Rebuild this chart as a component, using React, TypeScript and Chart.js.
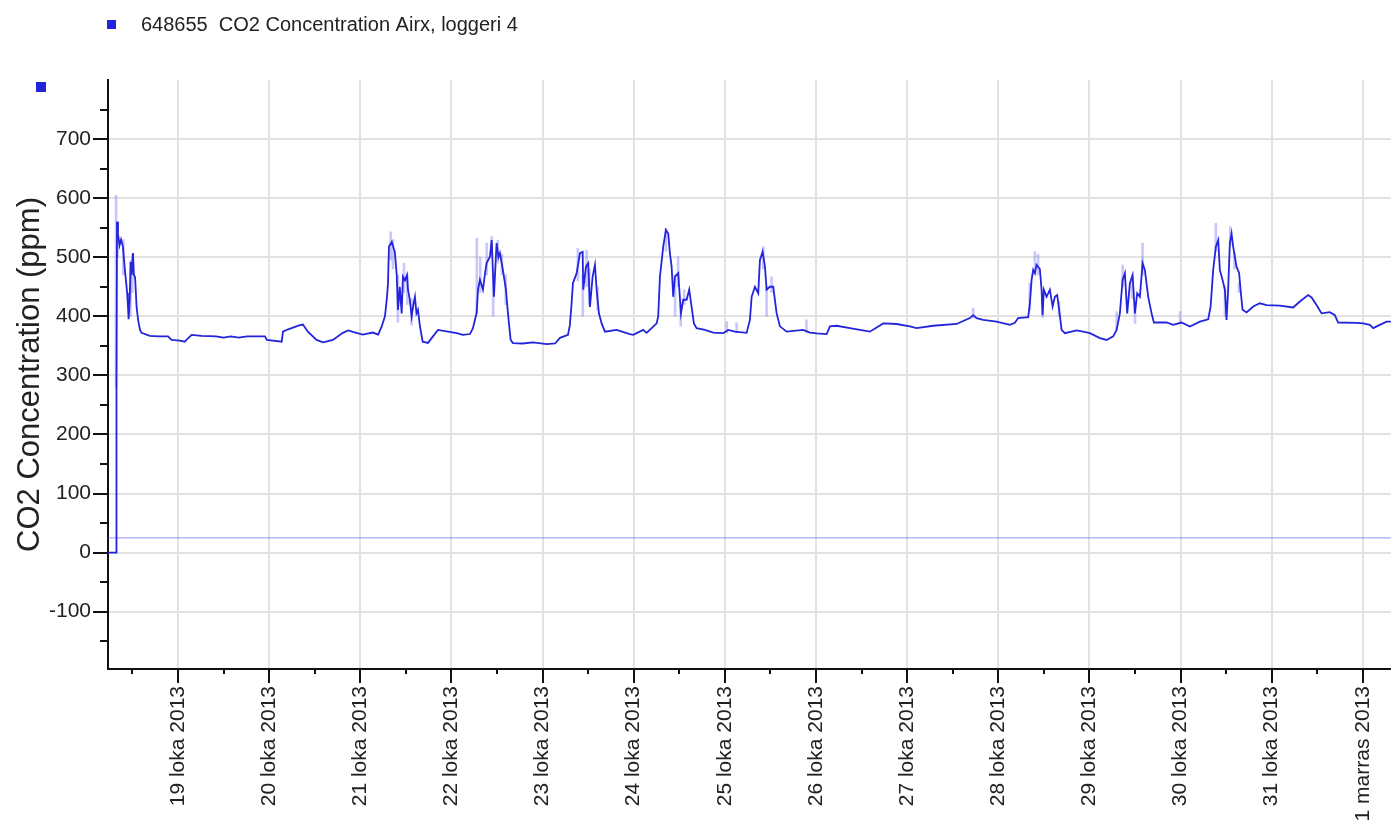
import React, { useEffect, useRef } from 'react';
import { Chart, registerables } from 'chart.js';

Chart.register(...registerables);

const FONT = '"Liberation Sans", Arial, Helvetica, sans-serif';

const seriesLabel = '648655  CO2 Concentration Airx, loggeri 4';
const yAxisTitle = 'CO2 Concentration (ppm)';

// time axis: hours since 18 Oct 2013 00:00
const X_MIN = 5.57;
const X_MAX = 343.4;
const Y_MIN = -197;
const Y_MAX = 800;

const co2Hours = [
  5.6, 7.7, 7.7, 7.9, 7.95, 8.2, 8.6, 9.0, 9.5, 10.0, 10.3, 10.6, 10.8, 11.0, 11.3, 11.55, 11.8, 12.15, 12.4, 12.7,
  13.1, 13.5, 14.0, 14.4, 16.6, 19.0, 21.4, 22.3, 24.5, 25.8, 26.5, 27.6, 30.2, 34.0, 36.0, 37.9, 40.0, 42.2, 46.9, 47.4,
  51.3, 51.65, 53.0, 56.1, 56.9, 58.2, 60.5, 62.2, 64.8, 67.4, 68.8, 70.5, 72.7, 75.3, 76.7, 77.6, 78.5, 79.0, 79.3, 79.56,
  80.3, 80.8, 81.1, 81.6, 81.93, 82.4, 82.9, 83.24, 83.77, 84.3, 84.56, 85.0, 85.53, 86.0, 86.4, 86.8, 87.19, 87.72, 88.43, 89.83,
  91.14, 92.46, 95.1, 97.4, 99.0, 100.9, 101.67, 102.65, 103.0, 103.52, 104.31, 104.8, 105.28, 106.15, 106.6, 107.2, 107.9, 108.4, 108.78, 109.57,
  110.36, 110.89, 111.6, 112.2, 114.8, 117.5, 121.1, 123.3, 124.6, 126.7, 127.2, 127.66, 128.0, 128.98, 129.85, 130.56, 130.72, 131.43, 132.03, 132.48,
  133.19, 133.8, 134.24, 134.85, 135.56, 136.43, 139.5, 143.0, 143.9, 146.5, 147.4, 149.15, 150.04, 150.46, 150.91, 151.78, 152.49, 153.1, 153.54, 153.99,
  154.41, 154.86, 155.73, 156.44, 157.04, 157.94, 158.62, 159.25, 159.86, 160.57, 162.76, 164.95, 167.58, 168.9, 170.66, 173.74, 174.61, 175.06, 175.93, 176.8,
  177.24, 177.95, 178.56, 179.01, 179.88, 180.75, 181.64, 182.51, 184.27, 188.64, 190.41, 192.17, 194.81, 195.67, 197.44, 200.94, 206.2, 209.71, 213.24, 216.74,
  218.5, 222.87, 229.03, 232.53, 233.4, 234.3, 236.04, 239.57, 243.07, 244.38, 245.25, 247.89, 248.33, 248.78, 249.2, 249.65, 250.09, 250.96, 251.41, 251.67,
  252.02, 252.73, 253.6, 254.31, 254.91, 255.52, 256.05, 256.68, 257.55, 260.63, 262.37, 264.13, 266.77, 268.53, 270.27, 271.17, 272.03, 272.75, 273.35, 273.96,
  274.67, 275.38, 275.99, 276.59, 277.3, 278.01, 278.62, 279.49, 280.38, 280.99, 284.33, 286.07, 288.28, 290.47, 293.1, 295.29, 295.92, 296.6, 297.31, 297.92,
  298.36, 299.07, 299.68, 300.12, 300.54, 300.99, 301.44, 301.86, 302.75, 303.44, 303.81, 304.33, 305.39, 307.13, 308.89, 310.66, 314.16, 317.66, 319.43, 321.61,
  322.51, 323.82, 325.14, 327.33, 328.64, 329.51, 334.35, 336.09, 337.86, 338.73, 340.49, 342.25, 343.4,
];

const co2Values = [
  0, 0, 280, 280, 560, 540, 520, 530, 518, 480, 460, 440, 420, 395, 430, 492, 470, 507, 470, 466,
  416, 394, 377, 372, 367, 366, 366, 360, 359, 357, 362, 368.6, 367, 366, 364, 366, 364, 366, 366, 360,
  357, 374, 378, 385, 386, 374, 360, 356, 360, 372, 376, 373, 369, 372.5, 369, 382, 400, 430, 456, 518,
  526, 515, 509, 470, 411, 450, 405, 467, 461, 470, 445, 430, 400, 420, 433, 405, 411, 383, 357, 355,
  366, 377, 374, 371.5, 368.6, 370, 380, 406, 445, 462, 445, 470, 490, 501, 529, 433, 524, 500, 507, 478,
  445, 405, 360, 354.6, 354, 356, 353, 354, 363.5, 368.6, 385.5, 422.7, 456, 473, 507, 509, 445, 484, 490, 416,
  467, 487, 445, 405, 388, 374, 377, 370, 368.6, 377, 372, 382.6, 388, 400, 467, 518, 546, 540, 507, 484,
  433, 467, 473, 405, 428, 428, 445, 416, 388, 380, 377, 372.5, 371.5, 377, 374, 372, 394, 433, 450, 439,
  495, 509.5, 484, 445, 450, 450, 405, 383, 374, 377, 372.5, 371, 370, 383, 384, 380, 374, 388, 387, 383,
  380, 384, 387, 397, 402, 397, 394, 391, 385.5, 389, 397, 398.5, 422, 461.6, 478.5, 473, 487, 480, 445, 402,
  445, 433, 445, 416.5, 433, 436, 411, 377, 371.5, 376, 374, 371.5, 363, 360, 366, 377, 405, 461.6, 473, 405,
  456, 470, 405, 439, 433, 490, 478, 433, 405, 389.5, 389.5, 385.5, 389.5, 382.6, 391, 395, 416.5, 478.5, 518, 529,
  478.5, 461.6, 445, 394, 445, 524, 540, 518, 484, 473, 445, 411, 406.5, 416.5, 422, 419, 418, 415, 425, 436,
  432, 419, 405, 407, 402, 389.5, 389, 388, 385.5, 380, 385.5, 391, 391,
];

// light min/max spikes of the raw readings
const spikeHours = [
  7.7, 8.1, 9.6, 11.5, 12.0, 80.0, 80.6, 81.9, 83.5, 84.4, 85.5, 102.7, 103.6, 105.3, 106.6, 107.0, 108.2, 109.3, 110.3,
  129.3, 130.6, 131.6, 132.3, 134.5, 152.5, 154.9, 155.7, 156.4, 157.3, 168.5, 171.1, 178.1, 179.0, 180.3, 189.5, 233.4,
  248.3, 249.65, 250.5, 251.7, 256.0, 271.2, 272.75, 275.2, 276.0, 278.0, 287.9, 297.3, 299.7, 301.1, 302.2, 303.4,
];
const spikeLow = [
  280, 500, 470, 400, 440, 495, 480, 390, 440, 420, 385, 405, 440, 470, 500, 400, 490, 470, 420,
  460, 400, 450, 420, 410, 510, 400, 450, 383, 420, 372, 372, 480, 400, 440, 372, 397,
  410, 470, 470, 398, 400, 377, 450, 430, 388, 470, 389, 510, 400, 520, 480, 440,
];
const spikeHigh = [
  605, 560, 530, 495, 505, 543, 530, 470, 490, 470, 430, 532, 500, 524, 535, 470, 529, 505, 470,
  515, 470, 512, 480, 450, 549, 470, 501, 420, 445, 391, 389, 518, 450, 467, 394, 414,
  456, 509.5, 505, 445, 425, 408, 487, 460, 420, 524, 408, 557.5, 450, 552, 508, 456.5,
];

const baselineHours = [X_MIN, X_MAX];
const baselineValues = [25, 25];

const xTickHours = [24, 48, 72, 96, 120, 144, 168, 192, 216, 240, 264, 288, 312, 336];
const xTickLabels = [
  '19 loka 2013', '20 loka 2013', '21 loka 2013', '22 loka 2013', '23 loka 2013', '24 loka 2013', '25 loka 2013',
  '26 loka 2013', '27 loka 2013', '28 loka 2013', '29 loka 2013', '30 loka 2013', '31 loka 2013', '1 marras 2013',
];
const xMinorHours = [12, 36, 60, 84, 108, 132, 156, 180, 204, 228, 252, 276, 300, 324];
const yTickValues = [-100, 0, 100, 200, 300, 400, 500, 600, 700];
const yMinorValues = [-150, -50, 50, 150, 250, 350, 450, 550, 650, 750];

const AXIS = '#111111';
const TEXT = '#222222';
const GRID = '#e2e2e2';
const BLUE = '#2424dc';

const decorPlugin = {
  id: 'decor',
  afterDraw(chart: any) {
    const { ctx, chartArea, scales } = chart;
    const x = scales.x;
    const y = scales.y;
    ctx.save();
    ctx.strokeStyle = AXIS;
    ctx.lineWidth = 2;
    ctx.beginPath();
    xMinorHours.forEach((h) => {
      const px = Math.round(x.getPixelForValue(h));
      ctx.moveTo(px, chartArea.bottom);
      ctx.lineTo(px, chartArea.bottom + 5);
    });
    yMinorValues.forEach((v) => {
      const py = Math.round(y.getPixelForValue(v));
      ctx.moveTo(chartArea.left - 8, py);
      ctx.lineTo(chartArea.left, py);
    });
    ctx.stroke();

    // legend
    ctx.fillStyle = BLUE;
    ctx.fillRect(107, 20, 9, 9);
    ctx.fillRect(36, 82, 10, 10);
    ctx.fillStyle = TEXT;
    ctx.font = `20px ${FONT}`;
    ctx.textBaseline = 'alphabetic';
    ctx.textAlign = 'left';
    ctx.fillText(seriesLabel, 141, 31);
    ctx.restore();
  },
};

export default function App() {
  const canvasRef = useRef<HTMLCanvasElement | null>(null);

  useEffect(() => {
    if (!canvasRef.current) return;
    const chart = new Chart(canvasRef.current, {
      type: 'line',
      data: {
        datasets: [
          {
            type: 'line',
            label: seriesLabel,
            data: co2Hours.map((h, i) => ({ x: h, y: co2Values[i] })),
            borderColor: BLUE,
            borderWidth: 1.8,
            pointRadius: 0,
            tension: 0,
            order: 0,
          },
          {
            type: 'bar',
            label: 'range',
            data: spikeHours.map((h, i) => ({ x: h, y: [spikeLow[i], spikeHigh[i]] })) as any,
            backgroundColor: 'rgba(125,125,255,0.42)',
            borderWidth: 0,
            barThickness: 2,
            order: 1,
          } as any,
          {
            type: 'line',
            label: 'baseline',
            data: baselineHours.map((h, i) => ({ x: h, y: baselineValues[i] })),
            borderColor: 'rgba(110,110,255,0.6)',
            borderWidth: 1.2,
            pointRadius: 0,
            order: 2,
          },
        ],
      },
      options: {
        responsive: false,
        devicePixelRatio: 1,
        animation: false,
        layout: { padding: { top: 80, left: 0, right: 0, bottom: 0 } },
        plugins: {
          legend: { display: false },
          tooltip: { enabled: false },
        },
        scales: {
          x: {
            type: 'linear',
            min: X_MIN,
            max: X_MAX,
            offset: false,
            afterBuildTicks: (scale: any) => {
              scale.ticks = xTickHours.map((v) => ({ value: v }));
            },
            afterFit: (scale: any) => {
              scale.height = 153;
            },
            ticks: {
              autoSkip: false,
              maxRotation: 90,
              minRotation: 90,
              padding: 3,
              color: TEXT,
              font: { family: FONT, size: 21 },
              callback: (_v: any, i: number) => xTickLabels[i],
            },
            grid: {
              offset: false,
              color: GRID,
              lineWidth: 2,
              tickColor: AXIS,
              tickLength: 14,
              tickWidth: 2,
            },
            border: { display: true, color: AXIS, width: 2 },
          },
          y: {
            type: 'linear',
            min: Y_MIN,
            max: Y_MAX,
            afterBuildTicks: (scale: any) => {
              scale.ticks = yTickValues.map((v) => ({ value: v }));
            },
            afterFit: (scale: any) => {
              scale.width = 108;
            },
            ticks: {
              padding: 2,
              color: TEXT,
              font: { family: FONT, size: 21 },
              callback: (v: any) => String(v),
            },
            grid: {
              offset: false,
              color: GRID,
              lineWidth: 2,
              tickColor: AXIS,
              tickLength: 15,
              tickWidth: 2,
            },
            border: { display: true, color: AXIS, width: 2 },
            title: {
              display: true,
              text: yAxisTitle,
              color: TEXT,
              font: { family: FONT, size: 31, lineHeight: 1.2 },
              padding: { top: 12, bottom: 0 },
            },
          },
        },
      },
      plugins: [decorPlugin],
    } as any);
    return () => chart.destroy();
  }, []);

  return (
    <div style={{ position: 'absolute', left: 0, top: 0, width: 1391, height: 822, background: '#fff' }}>
      <canvas
        ref={canvasRef}
        width={1391}
        height={822}
        style={{ display: 'block', width: '1391px', height: '822px' }}
      />
    </div>
  );
}
